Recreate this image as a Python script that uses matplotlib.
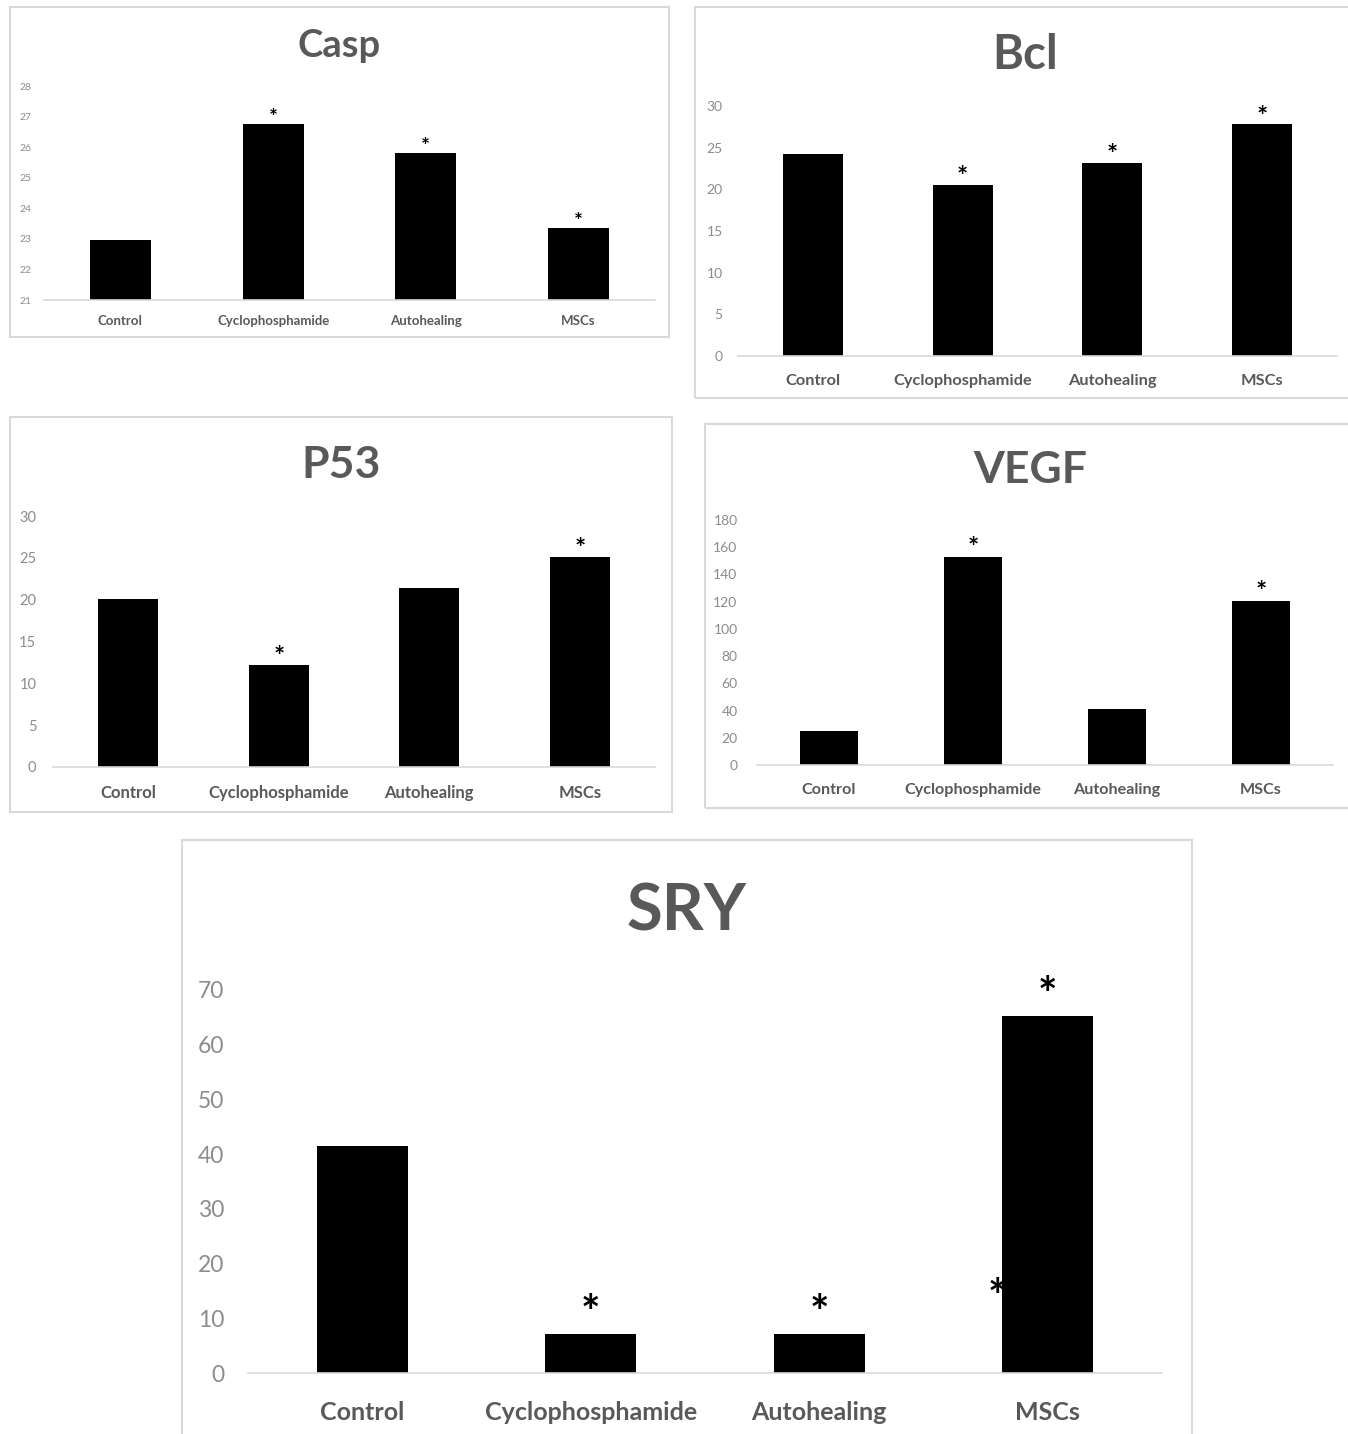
import numpy as np
import matplotlib
matplotlib.use('Agg')
import matplotlib.pyplot as plt
from matplotlib.patches import Rectangle

# groups shared by every panel
groups = ['Control', 'Cyclophosphamide', 'Autohealing', 'MSCs']

# values
casp = [22.95, 26.75, 25.8, 23.35]
bcl = [24.2, 20.5, 23.2, 27.8]
p53 = [20.1, 12.2, 21.4, 25.1]
vegf = [25, 153, 41, 120.5]
sry = [41.5, 7.2, 7.2, 65.3]

# which bars carry a significance star
casp_sig = [False, True, True, True]
bcl_sig = [False, True, True, True]
p53_sig = [False, True, False, True]
vegf_sig = [False, True, False, True]
sry_sig = [False, True, True, True]
sry_extra_star = (2.78, 13.5)   # the stray star left of the MSCs bar

plt.rcParams['font.family'] = ['Lato', 'DejaVu Sans']

W, H = 1348, 1434
fig = plt.figure(figsize=(W/100, H/100), dpi=100)


def box(x0, y0, x1, y1):
    # light grey frame round each chart, pixel coords from top-left
    fig.patches.append(Rectangle((x0/W, 1-y1/H), (x1-x0)/W, (y1-y0)/H,
                                 transform=fig.transFigure, fill=False,
                                 ec='#d9d9d9', lw=1.5))


def panel(vals, sig, title, ylim, yticks, ax_px, box_px, title_y,
          tsize, ysize, xsize, ssize, soff, xpad, ypad):
    x0, x1, ytop, ybot = ax_px
    ax = fig.add_axes([x0/W, 1-ybot/H, (x1-x0)/W, (ybot-ytop)/H])
    x = np.arange(len(groups))
    ax.bar(x, np.array(vals) - ylim[0], bottom=ylim[0], width=0.4,
           color='black', zorder=2)
    ax.set_xlim(-0.5, 3.5)
    ax.set_ylim(*ylim)
    ax.set_yticks(yticks)
    ax.set_xticks(x)
    ax.set_xticklabels(groups, fontsize=xsize, color='#595959', fontweight='bold')
    ax.tick_params(axis='y', length=0, labelsize=ysize, labelcolor='#8c8c8c', pad=ypad)
    ax.tick_params(axis='x', length=0, pad=xpad)
    for s in ['top', 'right', 'left']:
        ax.spines[s].set_visible(False)
    ax.spines['bottom'].set_color('#d9d9d9')
    ax.spines['bottom'].set_linewidth(1.2)
    ax.patch.set_alpha(0)
    for i, v in enumerate(vals):
        if sig[i]:
            ax.annotate('*', (i, v), xytext=(0, soff), textcoords='offset points',
                        ha='center', va='bottom', fontsize=ssize, color='black',
                        fontweight='bold')
    bx0, by0, bx1, by1 = box_px
    box(bx0, by0, bx1, by1)
    fig.text((bx0+bx1)/2/W, 1-title_y/H, title, ha='center', va='center',
             fontsize=tsize, fontweight='bold', color='#595959')
    return ax


panel(casp, casp_sig, 'Casp', (21, 28), range(21, 29),
      (44, 655, 86, 300), (10, 7, 669, 337), 46, 27.5, 7.5, 9.5, 15, -3, 11, 9)
panel(bcl, bcl_sig, 'Bcl', (0, 30), range(0, 31, 5),
      (738, 1337, 106, 356), (695, 7, 1355, 398), 55, 34, 10, 11.8, 19, -3, 13, 11)
panel(p53, p53_sig, 'P53', (0, 30), range(0, 31, 5),
      (53, 655, 516, 767), (10, 417, 672, 812), 465, 32, 10.5, 12, 19, -3, 13, 12)
panel(vegf, vegf_sig, 'VEGF', (0, 180), range(0, 181, 20),
      (757, 1333, 520, 765), (705, 424, 1355, 808), 470, 32, 10, 11.6, 19, -2, 13, 14)
ax5 = panel(sry, sry_sig, 'SRY', (0, 70), range(0, 71, 10),
            (248, 1162, 990, 1373), (182, 840, 1192, 1440), 912, 47, 16.5, 18, 33, -2, 20, 17)
ax5.text(sry_extra_star[0], sry_extra_star[1], '*', ha='center', va='center',
         fontsize=33, color='black', fontweight='bold', zorder=1)

plt.savefig('out.png', dpi=100, facecolor='white')
